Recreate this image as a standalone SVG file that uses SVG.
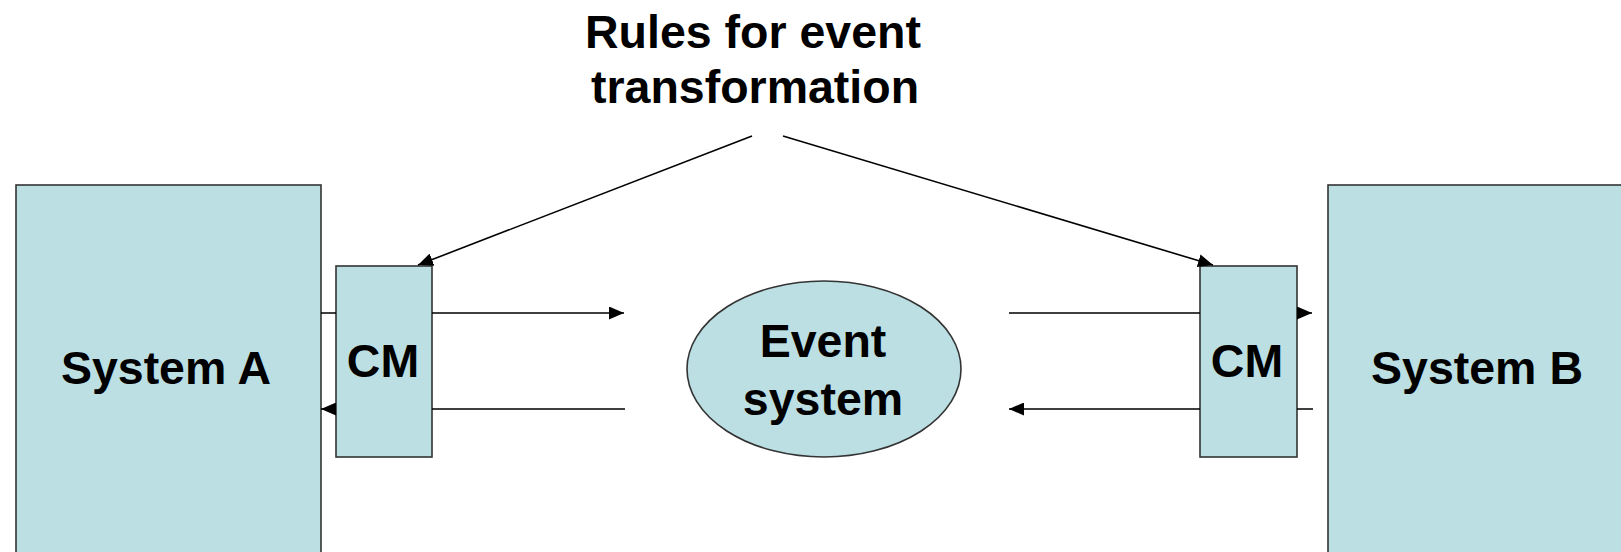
<svg xmlns="http://www.w3.org/2000/svg" width="1621" height="552" viewBox="0 0 1621 552">
<style>
.box{fill:#BBDFE3;stroke:#333;stroke-width:1.6}
.lbl{font-family:"Liberation Sans",Arial,sans-serif;font-weight:bold;font-size:46.5px;fill:#000;text-anchor:middle}
.con{fill:none;stroke:#000;stroke-width:1.6}
</style>
<defs>
<marker id="arr" markerUnits="userSpaceOnUse" markerWidth="16" markerHeight="13" refX="15" refY="6.5" orient="auto">
<path d="M0,0 L15,6.5 L0,13 z" fill="#000"/>
</marker>
</defs>
<g id="title">
<text class="lbl" x="753" y="48">Rules for event</text>
<text class="lbl" x="755" y="103">transformation</text>
</g>
<g id="system-a">
<rect class="box" x="16" y="185" width="305" height="380"/>
<text class="lbl" x="166" y="384">System A</text>
</g>
<g id="cm-a">
<rect class="box" x="336" y="266" width="96" height="191"/>
<text class="lbl" x="383" y="377">CM</text>
</g>
<g id="event-system">
<ellipse class="box" cx="824" cy="369" rx="137" ry="88"/>
<text class="lbl" x="823" y="357">Event</text>
<text class="lbl" x="823" y="415">system</text>
</g>
<g id="cm-b">
<rect class="box" x="1200" y="266" width="97" height="191"/>
<text class="lbl" x="1247" y="377">CM</text>
</g>
<g id="system-b">
<rect class="box" x="1328" y="185" width="310" height="380"/>
<text class="lbl" x="1477" y="384">System B</text>
</g>
<g id="connectors">
<path class="con" d="M321,313 H336 M432,313 H624" marker-end="url(#arr)"/>
<path class="con" d="M625,409 H432 M336,409 H321" marker-end="url(#arr)"/>
<path class="con" d="M1009,313 H1200 M1297,313 H1312" marker-end="url(#arr)"/>
<path class="con" d="M1313,409 H1297 M1200,409 H1009" marker-end="url(#arr)"/>
<path class="con" d="M752,136 L418,265" marker-end="url(#arr)"/>
<path class="con" d="M783,136 L1213,265" marker-end="url(#arr)"/>
</g>
</svg>
